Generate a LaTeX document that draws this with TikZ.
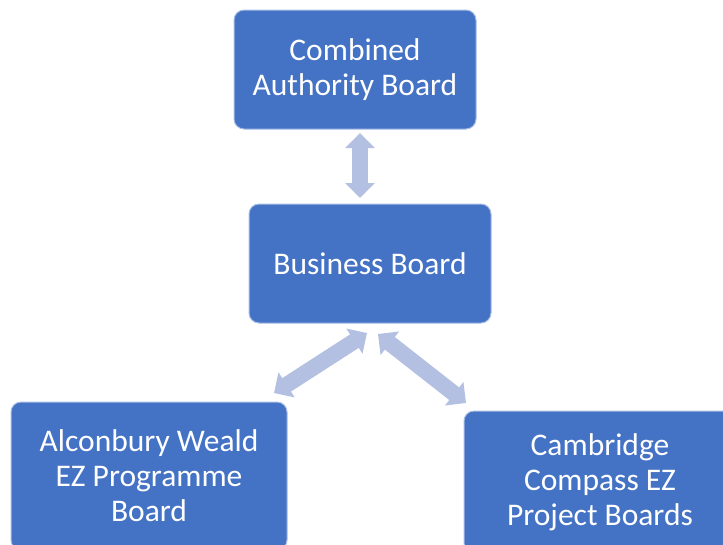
\documentclass[tikz,border=0pt]{standalone}
\usepackage{fontspec}
\setmainfont{Carlito}
\usetikzlibrary{arrows.meta}
\definecolor{boxblue}{HTML}{4472C4}
\definecolor{boxedge}{HTML}{A9BDE5}
\definecolor{arrowblue}{HTML}{B3C0E2}
\tikzset{
  board/.style={draw=boxedge, line width=1pt, fill=boxblue, rounded corners=10pt,
    text=white, align=center, inner sep=0pt,
    font=\fontsize{31.5}{35}\selectfont},
  blockarrow/.style={draw=arrowblue, line width=16pt,
    {Triangle[width=29pt,length=15pt]}-{Triangle[width=29pt,length=15pt]}}
}
\begin{document}
\begin{tikzpicture}[x=1pt,y=-1pt]
\useasboundingbox (0,0) rectangle (723,544);
\clip (0,0) rectangle (723,544);
\fill[white] (0,0) rectangle (723,544);
\node[board, minimum width=242pt, minimum height=119pt] (ca) at (355,69.5) {Combined\\Authority Board};
\node[board, minimum width=242pt, minimum height=119pt] (bb) at (370,263.5) {Business Board};
\node[board, minimum width=276pt, minimum height=148pt] (aw) at (149,476) {Alconbury Weald\\EZ Programme\\Board};
\node[board, minimum width=272pt, minimum height=142pt] (cc) at (600,482) {Cambridge\\Compass EZ\\Project Boards};
\coordinate (a1) at (360,133);
\coordinate (a2) at (360,198);
\coordinate (b1) at (367,333);
\coordinate (b2) at (274,393);
\coordinate (c1) at (378,334);
\coordinate (c2) at (466,403);
\draw[blockarrow] (a1) -- (a2);
\draw[blockarrow] (b1) -- (b2);
\draw[blockarrow] (c1) -- (c2);
\end{tikzpicture}
\end{document}
